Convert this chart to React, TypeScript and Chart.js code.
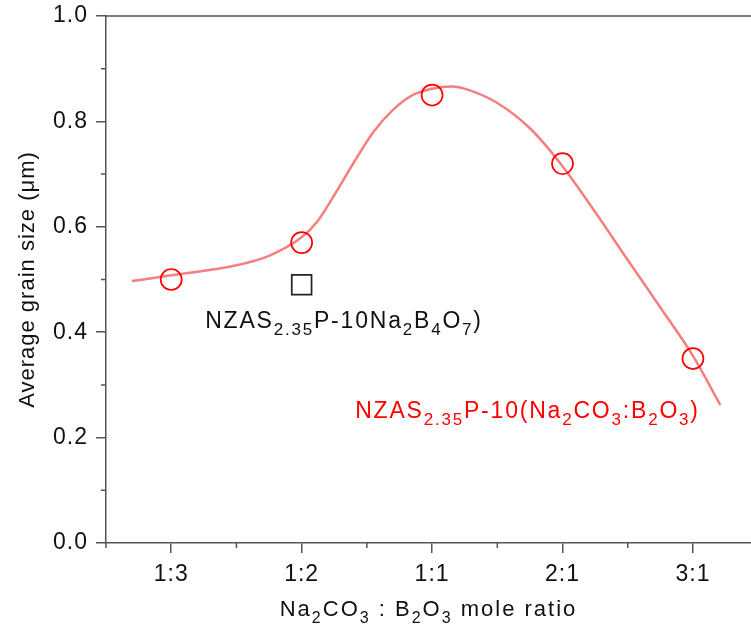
import React, { useEffect, useRef } from 'react';
import { Chart, registerables } from 'chart.js';

Chart.register(...registerables);

// ---- data ----
const categories = ['1:3', '1:2', '1:1', '2:1', '3:1'];
const categoryPos = [0, 1, 2, 3, 4];
const grainSize = [0.5, 0.57, 0.85, 0.72, 0.35];
const boraxPos = [1];
const boraxSize = [0.49];
// smooth fitted curve
const fitX = [-0.3, 0.0, 0.5, 0.75, 1.0, 1.12, 1.25, 1.4, 1.55, 1.7, 1.85, 2.0, 2.15, 2.3, 2.5, 2.75, 3.0, 3.25, 3.5, 3.75, 4.0, 4.21];
const fitY = [0.497, 0.508, 0.527, 0.545, 0.58, 0.61, 0.66, 0.722, 0.78, 0.822, 0.85, 0.862, 0.866, 0.858, 0.835, 0.787, 0.715, 0.628, 0.537, 0.447, 0.355, 0.262];
const yMajor = [0, 0.2, 0.4, 0.6, 0.8, 1.0];
const yMinor = [0.1, 0.3, 0.5, 0.7, 0.9];
const xMinor = [-0.5, 0.5, 1.5, 2.5, 3.5];

const FONT = "'Liberation Sans', Arial, sans-serif";
const AXIS = '#555555';
const TEXT = '#111111';

type Seg = [string, boolean?];
const xTitleSegs: Seg[] = [['Na'], ['2', true], ['CO'], ['3', true], [' : B'], ['2', true], ['O'], ['3', true], [' mole ratio']];
const boraxLabel: Seg[] = [['NZAS'], ['2.35', true], ['P-10Na'], ['2', true], ['B'], ['4', true], ['O'], ['7', true], [')']];
const mixLabel: Seg[] = [['NZAS'], ['2.35', true], ['P-10(Na'], ['2', true], ['CO'], ['3', true], [':B'], ['2', true], ['O'], ['3', true], [')']];

function drawRich(ctx: CanvasRenderingContext2D, segs: Seg[], x: number, y: number, size: number, subSize: number, color: string, spacing: number, align: 'left' | 'center') {
  ctx.save();
  (ctx as any).letterSpacing = spacing + 'px';
  ctx.fillStyle = color;
  ctx.textBaseline = 'alphabetic';
  ctx.textAlign = 'left';
  const widths = segs.map(([t, sub]) => {
    ctx.font = `${sub ? subSize : size}px ${FONT}`;
    return ctx.measureText(t).width;
  });
  const total = widths.reduce((a, b) => a + b, 0);
  let cx = align === 'center' ? x - total / 2 : x;
  segs.forEach(([t, sub], i) => {
    ctx.font = `${sub ? subSize : size}px ${FONT}`;
    ctx.fillText(t, cx, sub ? y + 7 : y);
    cx += widths[i];
  });
  ctx.restore();
}

const decor = {
  id: 'decor',
  beforeDraw(chart: any) {
    (chart.ctx as any).letterSpacing = '1px';
  },
  afterDraw(chart: any) {
    const { ctx, chartArea, scales } = chart;
    const xs = scales.x;
    const ys = scales.y;
    ctx.save();
    ctx.strokeStyle = AXIS;
    ctx.lineWidth = 1.5;
    // top frame line
    ctx.beginPath();
    ctx.moveTo(chartArea.left, chartArea.top);
    ctx.lineTo(chartArea.right, chartArea.top);
    ctx.stroke();
    // minor ticks
    ctx.beginPath();
    xMinor.forEach((v) => {
      const px = xs.getPixelForValue(v);
      ctx.moveTo(px, chartArea.bottom);
      ctx.lineTo(px, chartArea.bottom + 5);
    });
    yMinor.forEach((v) => {
      const py = ys.getPixelForValue(v);
      ctx.moveTo(chartArea.left, py);
      ctx.lineTo(chartArea.left - 5, py);
    });
    ctx.stroke();
    ctx.restore();

    // x axis title with subscripts
    drawRich(ctx, xTitleSegs, (chartArea.left + chartArea.right) / 2, 616, 22, 16, TEXT, 2, 'center');
    // annotations
    drawRich(ctx, boraxLabel, xs.getPixelForValue(0.26), ys.getPixelForValue(0.408), 23, 17, TEXT, 1.8, 'left');
    drawRich(ctx, mixLabel, xs.getPixelForValue(1.41), ys.getPixelForValue(0.237), 23, 17, '#FF0000', 1.8, 'left');
  },
};

export default function App() {
  const ref = useRef<HTMLCanvasElement>(null);
  useEffect(() => {
    if (!ref.current) return;
    const chart = new Chart(ref.current, {
      type: 'scatter',
      data: {
        datasets: [
          {
            type: 'line',
            label: 'fit',
            data: fitX.map((x, i) => ({ x, y: fitY[i] })),
            borderColor: '#F47F7F',
            borderWidth: 2.5,
            pointRadius: 0,
            cubicInterpolationMode: 'monotone',
            fill: false,
            order: 3,
          } as any,
          {
            label: 'NZAS2.35P-10(Na2CO3:B2O3)',
            data: categoryPos.map((x, i) => ({ x, y: grainSize[i] })),
            pointStyle: 'circle',
            pointRadius: 10.5,
            pointBorderWidth: 1.7,
            borderColor: '#FF0000',
            backgroundColor: 'rgba(0,0,0,0)',
            order: 1,
          },
          {
            label: 'NZAS2.35P-10Na2B4O7',
            data: boraxPos.map((x, i) => ({ x, y: boraxSize[i] })),
            pointStyle: 'rect',
            pointRadius: 14,
            pointBorderWidth: 1.7,
            borderColor: '#222222',
            backgroundColor: 'rgba(0,0,0,0)',
            order: 2,
          },
        ],
      },
      options: {
        animation: false,
        responsive: false,
        devicePixelRatio: 1,
        layout: { autoPadding: false, padding: { top: 16, left: 0, right: 0, bottom: 0 } },
        plugins: { legend: { display: false }, tooltip: { enabled: false } },
        scales: {
          x: {
            type: 'linear',
            min: -0.5,
            max: 4.445,
            afterBuildTicks: (s: any) => {
              s.ticks = categoryPos.map((v) => ({ value: v }));
            },
            afterFit: (s: any) => {
              s.height = 89;
              s.paddingLeft = 0;
              s.paddingRight = 0;
            },
            ticks: {
              callback: (v: any) => categories[Math.round(Number(v))] ?? '',
              font: { family: FONT, size: 23 },
              color: TEXT,
              padding: 8,
              maxRotation: 0,
            },
            grid: { drawOnChartArea: false, drawTicks: true, tickLength: 10, color: AXIS, lineWidth: 1.5 },
            border: { display: true, color: AXIS, width: 1.5 },
          },
          y: {
            type: 'linear',
            min: 0,
            max: 1,
            afterBuildTicks: (s: any) => {
              s.ticks = yMajor.map((v) => ({ value: v }));
            },
            afterFit: (s: any) => {
              s.width = 106;
              s.paddingTop = 0;
              s.paddingBottom = 0;
            },
            ticks: {
              callback: (v: any) => Number(v).toFixed(1),
              font: { family: FONT, size: 23 },
              color: TEXT,
              padding: 8,
            },
            grid: { drawOnChartArea: false, drawTicks: true, tickLength: 10, color: AXIS, lineWidth: 1.5 },
            border: { display: true, color: AXIS, width: 1.5 },
            title: {
              display: true,
              text: 'Average grain size (\u03bcm)',
              font: { family: FONT, size: 22 },
              color: TEXT,
              padding: { top: 15, bottom: 0 },
            },
          },
        },
      },
      plugins: [decor],
    });
    return () => chart.destroy();
  }, []);
  return (
    <div style={{ position: 'absolute', left: 0, top: 0, width: 751, height: 632, background: '#fff' }}>
      <canvas ref={ref} width={751} height={632} style={{ display: 'block' }} />
    </div>
  );
}
